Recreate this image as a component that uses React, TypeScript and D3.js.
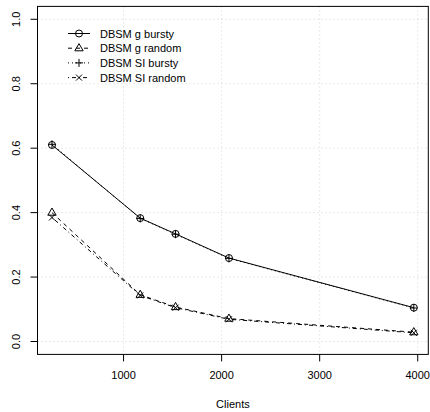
import React from "react";
import * as d3 from "d3";

const clients = [270, 1170, 1530, 2075, 3960];
const gBursty = [0.61, 0.383, 0.334, 0.259, 0.105];
const gRandom = [0.40, 0.145, 0.107, 0.071, 0.029];
const siBursty = [0.612, 0.382, 0.333, 0.258, 0.104];
const siRandom = [0.385, 0.143, 0.105, 0.069, 0.027];
const xTicks = [1000, 2000, 3000, 4000];
const yTicks = [0, 0.2, 0.4, 0.6, 0.8, 1.0];
const seriesNames = ["DBSM g bursty", "DBSM g random", "DBSM SI bursty", "DBSM SI random"];

const W = 430, H = 412;
const left = 37.5, right = 428.3, top = 6.4, bottom = 354.4;
const font = "Liberation Sans, Arial, Helvetica, sans-serif";

function Marker({ type, x, y }: { type: string; x: number; y: number }) {
  const s = 4;
  const st = { fill: "none", stroke: "#000", strokeWidth: 1 };
  if (type === "circle") return <circle cx={x} cy={y} r={3.5} {...st} />;
  if (type === "triangle")
    return <path d={`M${x},${y - 4.6}L${x + 4.2},${y + 2.6}L${x - 4.2},${y + 2.6}Z`} {...st} />;
  if (type === "plus")
    return <path d={`M${x - s},${y}H${x + s}M${x},${y - s}V${y + s}`} {...st} />;
  return <path d={`M${x - 3},${y - 3}L${x + 3},${y + 3}M${x - 3},${y + 3}L${x + 3},${y - 3}`} {...st} />;
}

export default function App() {
  const xmin = d3.min(clients)!, xmax = d3.max(clients)!;
  const pad = (xmax - xmin) * 0.04;
  const x = d3.scaleLinear().domain([xmin - pad, xmax + pad]).range([left, right]);
  const y = d3.scaleLinear().domain([-0.04, 1.04]).range([bottom, top]);
  const line = d3.line<number>().x((_, i) => x(clients[i])).y((d) => y(d));

  const series = [
    { vals: gBursty, dash: "none", marker: "circle" },
    { vals: gRandom, dash: "4,4", marker: "triangle" },
    { vals: siBursty, dash: "1,3", marker: "plus" },
    { vals: siRandom, dash: "1,3,4,3", marker: "x" },
  ];

  return (
    <svg width={W} height={H} style={{ position: "absolute", left: 0, top: 0, background: "#fff" }} fontFamily={font}>
      <rect x={0} y={0} width={W} height={H} fill="#fff" />
      {/* grid */}
      {xTicks.map((t) => (
        <line key={"gx" + t} x1={x(t)} x2={x(t)} y1={top} y2={bottom} stroke="#d3d3d3" strokeDasharray="1,3" />
      ))}
      {yTicks.map((t) => (
        <line key={"gy" + t} x1={left} x2={right} y1={y(t)} y2={y(t)} stroke="#d3d3d3" strokeDasharray="1,3" />
      ))}
      {/* series */}
      {series.map((s, i) => (
        <g key={i}>
          <path d={line(s.vals)!} fill="none" stroke="#000" strokeWidth={1} strokeDasharray={s.dash} />
          {s.vals.map((v, j) => (
            <Marker key={j} type={s.marker} x={x(clients[j])} y={y(v)} />
          ))}
        </g>
      ))}
      {/* box */}
      <rect x={left} y={top} width={right - left} height={bottom - top} fill="none" stroke="#000" strokeWidth={1} />
      {/* x axis */}
      {xTicks.map((t) => (
        <g key={"xt" + t}>
          <line x1={x(t)} x2={x(t)} y1={bottom} y2={bottom + 7} stroke="#000" />
          <text x={x(t)} y={379} fontSize={11} textAnchor="middle">{t}</text>
        </g>
      ))}
      <text x={(left + right) / 2} y={408} fontSize={11} textAnchor="middle">Clients</text>
      {/* y axis */}
      {yTicks.map((t) => (
        <g key={"yt" + t}>
          <line x1={left - 7} x2={left} y1={y(t)} y2={y(t)} stroke="#000" />
          <text x={20} y={y(t)} fontSize={11} textAnchor="middle" transform={`rotate(-90 20 ${y(t)})`}>
            {t.toFixed(1)}
          </text>
        </g>
      ))}
      {/* legend */}
      {series.map((s, i) => {
        const ly = 33.5 + i * 14.7;
        return (
          <g key={"lg" + i}>
            <line x1={68} x2={90} y1={ly} y2={ly} stroke="#000" strokeDasharray={s.dash} />
            <Marker type={s.marker} x={79} y={ly} />
            <text x={100} y={ly + 4} fontSize={11}>{seriesNames[i]}</text>
          </g>
        );
      })}
    </svg>
  );
}
